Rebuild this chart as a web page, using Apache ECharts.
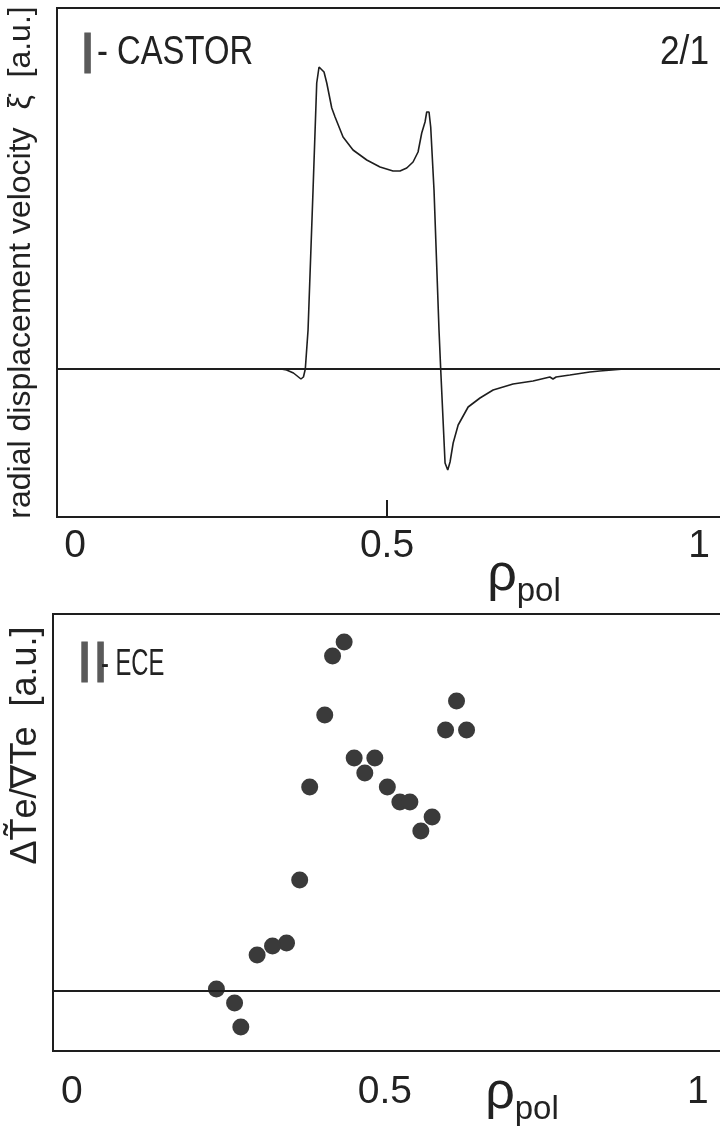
<!DOCTYPE html>
<html><head><meta charset="utf-8">
<script src="https://cdn.jsdelivr.net/npm/echarts@6/dist/echarts.min.js"></script>
<style>html,body{margin:0;padding:0;background:#fff}#c{width:720px;height:1137px}</style>
</head><body><div id="c"></div>
<script>
// x-axis tick labels (rho_pol)
const xTicks = [0, 0.5, 1];
// Panel I: CASTOR radial displacement velocity (a.u.)
const castorRho = [0, 0.33, 0.339, 0.350, 0.362, 0.366, 0.369, 0.3734, 0.3814, 0.3873, 0.391, 0.3938, 0.399, 0.4034, 0.4114, 0.4167, 0.4295, 0.4455, 0.4675, 0.4888, 0.5096, 0.5208, 0.5316, 0.5417, 0.5497, 0.5556, 0.5609, 0.5636, 0.5673, 0.570, 0.5753, 0.5833, 0.586, 0.593, 0.5973, 0.601, 0.606, 0.614, 0.630, 0.649, 0.670, 0.702, 0.734, 0.761, 0.766, 0.771, 0.793, 0.825, 0.841, 0.88];
const castorVel = [0, 0, -0.01, -0.04, -0.10, -0.08, 0, 0.39, 1.79, 2.86, 3.02, 3.04, 2.97, 2.86, 2.61, 2.52, 2.32, 2.19, 2.09, 2.02, 1.98, 1.98, 2.01, 2.07, 2.17, 2.36, 2.47, 2.57, 2.57, 2.42, 1.79, 0.39, 0, -0.94, -1.01, -0.93, -0.74, -0.56, -0.38, -0.29, -0.21, -0.15, -0.12, -0.08, -0.10, -0.08, -0.06, -0.03, -0.02, 0];
// Panel II: ECE measured dTe/gradTe (a.u.)
const eceRho = [0.435, 0.4165, 0.404, 0.6145, 0.597, 0.6305, 0.451, 0.484, 0.468, 0.380, 0.504, 0.524, 0.540, 0.5755, 0.5575, 0.364, 0.343, 0.3206, 0.296, 0.231, 0.260, 0.270];
const eceAmp = [3.49, 3.35, 2.76, 2.90, 2.61, 2.61, 2.33, 2.33, 2.18, 2.04, 2.04, 1.89, 1.89, 1.74, 1.60, 1.11, 0.48, 0.45, 0.36, 0.02, -0.12, -0.36];
// texts
const panel1Num = 'I', panel1Name = '- CASTOR', panel1Mode = '2/1';
const panel2Num = 'II', panel2Name = '- ECE';
const yName1 = 'radial displacement velocity  \u03BE\u0307  [a.u.]';
const yName2 = '\u0394T\u0303e/\u2207Te  [a.u.]';

const castorData = castorRho.map((x, i) => [x, castorVel[i]]);
const eceData = eceRho.map((x, i) => [x, eceAmp[i]]);

const INK = '#1e1e1e';
const FF = '"Liberation Sans", Arial, sans-serif';

function xAxisCfg(gi, min, max, tick, margin, gap, shift) {
  return {
    type: 'value', gridIndex: gi, min: min, max: max,
    axisLine: {show: false, onZero: false},
    splitLine: {show: false},
    axisTick: tick ? {show: true, inside: true, length: 17, customValues: [0.5], lineStyle: {color: INK, width: 2}} : {show: false},
    axisLabel: {customValues: xTicks, fontSize: 39, color: '#222', fontFamily: FF, margin: margin},
    name: '{r|\u03C1}{s|pol}', nameLocation: 'middle', nameGap: gap, nameMoveOverlap: false,
    nameTextStyle: {
      padding: [0, 0, 0, shift],
      rich: {
        r: {fontSize: 52, fontFamily: FF, color: '#222', verticalAlign: 'bottom', padding: [0, 0, 6, 0]},
        s: {fontSize: 33, fontFamily: FF, color: '#222', verticalAlign: 'bottom'}
      }
    }
  };
}

function label(text, x, y, size, sx, align) {
  return {type: 'text', x: x, y: y, scaleX: sx, style: {text: text, font: 'normal ' + size + 'px ' + FF, fill: '#222', align: align, verticalAlign: 'middle'}};
}

const chart = echarts.init(document.getElementById('c'));
chart.setOption({
  backgroundColor: '#fff',
  animation: false,
  grid: [
    {left: 57, top: 8, width: 700, height: 509, show: true, borderColor: INK, borderWidth: 2, backgroundColor: 'transparent', outerBoundsMode: 'none', containLabel: false},
    {left: 53, top: 614, width: 700, height: 437, show: true, borderColor: INK, borderWidth: 2, backgroundColor: 'transparent', outerBoundsMode: 'none', containLabel: false}
  ],
  xAxis: [xAxisCfg(0, -0.029, 1.093, true, 10, 33, 234), xAxisCfg(1, -0.030, 1.088, false, 22, 17, 238)],
  yAxis: [
    {type: 'value', gridIndex: 0, min: -1.48, max: 3.61, axisLine: {show: false, onZero: false}, axisTick: {show: false}, axisLabel: {show: false}, splitLine: {show: false},
     name: yName1, nameLocation: 'middle', nameGap: 20, nameMoveOverlap: false, nameTextStyle: {fontSize: 32, fontFamily: FF, color: '#222'}},
    {type: 'value', gridIndex: 1, min: -0.60, max: 3.77, axisLine: {show: false, onZero: false}, axisTick: {show: false}, axisLabel: {show: false}, splitLine: {show: false},
     name: yName2, nameLocation: 'middle', nameGap: 9, nameMoveOverlap: false, nameTextStyle: {fontSize: 36, fontFamily: FF, color: '#222', padding: [0, 0, 0, 174]}}
  ],
  graphic: [
    {type: 'text', left: 79, top: 27, style: {text: panel1Num, font: 'normal 58px ' + FF, fill: '#5a5a5a', stroke: '#5a5a5a', lineWidth: 1}},
    {type: 'text', left: 76, top: 636, style: {text: panel2Num, font: 'normal 58px ' + FF, fill: '#5a5a5a', stroke: '#5a5a5a', lineWidth: 1}},
    label(panel1Name, 97, 53, 40, 0.82, 'left'),
    label(panel1Mode, 709, 53, 41, 0.86, 'right'),
    label(panel2Name, 101, 665, 36, 0.66, 'left')
  ],
  series: [
    {type: 'line', xAxisIndex: 0, yAxisIndex: 0, data: castorData, symbol: 'none', lineStyle: {color: INK, width: 1.6},
     markLine: {silent: true, symbol: ['none', 'none'], label: {show: false}, lineStyle: {type: 'solid', color: INK, width: 2}, data: [{yAxis: 0}]}},
    {type: 'scatter', xAxisIndex: 1, yAxisIndex: 1, data: eceData, symbolSize: 17, itemStyle: {color: '#3a3a3a', opacity: 1},
     markLine: {silent: true, symbol: ['none', 'none'], label: {show: false}, lineStyle: {type: 'solid', color: INK, width: 2}, data: [{yAxis: 0}]}}
  ]
});
</script>
</body></html>
